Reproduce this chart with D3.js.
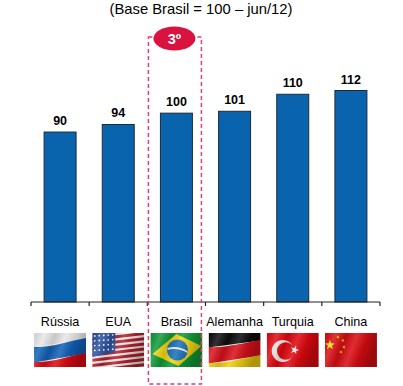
<!DOCTYPE html>
<html>
<head>
<meta charset="utf-8">
<script src="https://cdn.jsdelivr.net/npm/d3@7"></script>
<style>
body { margin: 0; background: #fff; }
svg { display: block; font-family: "Liberation Sans", Arial, sans-serif; }
</style>
</head>
<body>
<div id="root"></div>
<script>
var paises = ["Rússia", "EUA", "Brasil", "Alemanha", "Turquia", "China"];
var valores = [90, 94, 100, 101, 110, 112];
var titulo = "(Base Brasil = 100 – jun/12)";
var destaque = "Brasil";
var posicao = "3º";

var width = 403, height = 386;
var baseY = 302, topY = 90.5;

var svg = d3.select("#root").append("svg")
    .attr("width", width)
    .attr("height", height);

var x = d3.scaleBand()
    .domain(paises)
    .range([31, 380])
    .paddingInner(0.45)
    .paddingOuter(0.225);

var y = d3.scaleLinear()
    .domain([0, d3.max(valores)])
    .range([baseY, topY]);

var defs = svg.append("defs");

// brilho ondulado por cima das bandeiras
var brilho = defs.append("linearGradient").attr("id", "brilho")
    .attr("x1", 0).attr("x2", 1).attr("y1", 0).attr("y2", 0.25);
[[0, "#000", 0.1], [0.2, "#fff", 0.16], [0.4, "#000", 0.14], [0.6, "#fff", 0.14], [0.8, "#000", 0.12], [1, "#000", 0.28]]
    .forEach(function (s) {
        brilho.append("stop").attr("offset", s[0]).attr("stop-color", s[1]).attr("stop-opacity", s[2]);
    });

defs.append("clipPath").attr("id", "recorte")
    .append("rect").attr("width", 52).attr("height", 34);

svg.append("text")
    .attr("x", 201)
    .attr("y", 13.5)
    .attr("text-anchor", "middle")
    .style("font-size", "14.8px")
    .style("fill", "#000")
    .text(titulo);

// barras
svg.selectAll(".bar")
    .data(valores)
    .enter()
    .append("rect")
    .attr("class", "bar")
    .attr("x", function (d, i) { return x(paises[i]); })
    .attr("y", function (d) { return y(d); })
    .attr("width", x.bandwidth())
    .attr("height", function (d) { return baseY - y(d); })
    .style("fill", "#0a64ad")
    .style("stroke", "#1c2a3a")
    .style("stroke-width", 1);

svg.selectAll(".valor")
    .data(valores)
    .enter()
    .append("text")
    .attr("class", "valor")
    .attr("x", function (d, i) { return x(paises[i]) + x.bandwidth() / 2; })
    .attr("y", function (d) { return y(d) - 7; })
    .attr("text-anchor", "middle")
    .style("font-size", "12.5px")
    .style("font-weight", "bold")
    .style("fill", "#000")
    .text(function (d) { return d; });

// eixo: ticks entre as categorias
var passo = x.step();
var limites = d3.range(paises.length + 1).map(function (i) { return 31 + i * passo; });
var eixo = svg.append("g").style("stroke", "#222").style("stroke-width", 1.2);
eixo.append("line").attr("x1", 31).attr("x2", 380).attr("y1", baseY).attr("y2", baseY);
eixo.selectAll(".tick")
    .data(limites)
    .enter()
    .append("line")
    .attr("class", "tick")
    .attr("x1", function (d) { return d; })
    .attr("x2", function (d) { return d; })
    .attr("y1", baseY)
    .attr("y2", baseY + 4);

svg.selectAll(".pais")
    .data(paises)
    .enter()
    .append("text")
    .attr("class", "pais")
    .attr("x", function (d) { return x(d) + x.bandwidth() / 2; })
    .attr("y", 326)
    .attr("text-anchor", "middle")
    .style("font-size", "12.6px")
    .style("fill", "#000")
    .text(function (d) { return d; });

// faixas inclinadas: cortes = altura de cada divisa na esquerda e na direita
function faixas(g, cores, esq, dir) {
    var e = [-8].concat(esq, [40]), r = [-8].concat(dir, [40]);
    cores.forEach(function (c, i) {
        g.append("path")
            .attr("d", "M0," + e[i] + "C17," + (e[i] + 1) + " 35," + (r[i] + 3) + " 52," + r[i] +
                "L52," + (r[i + 1] + 0.5) + "L0," + (e[i + 1] + 0.5) + "Z")
            .style("fill", c);
    });
}

function estrela(g, cx, cy, r, cor, rot) {
    var pts = d3.range(10).map(function (i) {
        var a = i * Math.PI / 5 - Math.PI / 2 + (rot || 0);
        var q = i % 2 ? r * 0.4 : r;
        return [cx + q * Math.cos(a), cy + q * Math.sin(a)];
    });
    g.append("polygon").attr("points", pts.join(" ")).style("fill", cor);
}

var desenho = {
    "Rússia": function (g) {
        faixas(g, ["#e8e8e8", "#1160b8", "#dd0a12"], [14, 29], [5, 20]);
    },
    "EUA": function (g) {
        g.append("rect").attr("width", 52).attr("height", 34).style("fill", "#f2eeee");
        d3.range(7).forEach(function (i) {
            g.append("path")
                .attr("d", "M0," + (i * 5.2 + 5) + "L52," + (i * 5.2 - 1) + "L52," + (i * 5.2 + 2) + "L0," + (i * 5.2 + 8) + "Z")
                .style("fill", "#b5202c");
        });
        g.append("path").attr("d", "M0,0L23,0L23,19L0,24Z").style("fill", "#2b4f9e");
        d3.range(4).forEach(function (l) {
            d3.range(5).forEach(function (c) {
                g.append("circle").attr("cx", 2.5 + c * 4.5).attr("cy", 3 + l * 4.8 - c * 0.3)
                    .attr("r", 0.9).style("fill", "#fff");
            });
        });
    },
    "Brasil": function (g) {
        g.append("rect").attr("width", 52).attr("height", 34).style("fill", "#109a38");
        g.append("polygon").attr("points", "26,1 51,13 28,33 2,21").style("fill", "#f3d612");
        g.append("circle").attr("cx", 27).attr("cy", 17).attr("r", 10.5).style("fill", "#1a72b8");
        g.append("path").attr("d", "M17,15C23,13 31,14 37,18L37,20C31,16 23,15 17,17Z").style("fill", "#e8eef0");
    },
    "Alemanha": function (g) {
        faixas(g, ["#0c0c0c", "#d8101a", "#f0d010"], [14, 30], [7, 22]);
    },
    "Turquia": function (g) {
        g.append("rect").attr("width", 52).attr("height", 34).style("fill", "#e0080f");
        g.append("circle").attr("cx", 16).attr("cy", 18).attr("r", 11).style("fill", "#f4e8ea");
        g.append("circle").attr("cx", 19).attr("cy", 18).attr("r", 8.8).style("fill", "#e0080f");
        estrela(g, 28, 17, 4.6, "#f4e8ea", 0.3);
    },
    "China": function (g) {
        g.append("rect").attr("width", 52).attr("height", 34).style("fill", "#d90c12");
        estrela(g, 5, 12, 5.2, "#f6e010");
        [[13, 4], [18, 7.5], [19, 14], [16, 19]].forEach(function (p) {
            estrela(g, p[0], p[1], 1.8, "#f6e010", 0.4);
        });
    }
};

var flagW = 52, flagX = function (d) { return x(d) + x.bandwidth() / 2 - flagW / 2; };
var flags = svg.selectAll(".bandeira")
    .data(paises)
    .enter()
    .append("g")
    .attr("class", "bandeira")
    .attr("transform", function (d) { return "translate(" + flagX(d) + ",333)"; })
    .attr("clip-path", "url(#recorte)");

flags.each(function (d) {
    var g = d3.select(this);
    desenho[d](g);
    g.append("rect").attr("width", 52).attr("height", 34).style("fill", "url(#brilho)");
});

// destaque tracejado + selo
var meio = x(destaque) + x.bandwidth() / 2;
svg.append("rect")
    .attr("x", meio - 28)
    .attr("y", 37)
    .attr("width", 53)
    .attr("height", 347)
    .style("fill", "none")
    .style("stroke", "#e63e6d")
    .style("stroke-width", 1.5)
    .style("stroke-dasharray", "4,3");

svg.append("ellipse")
    .attr("cx", meio - 2)
    .attr("cy", 38.5)
    .attr("rx", 21)
    .attr("ry", 12)
    .style("fill", "#d9123f");

svg.append("text")
    .attr("x", meio - 2)
    .attr("y", 44)
    .attr("text-anchor", "middle")
    .style("font-size", "14.5px")
    .style("font-weight", "bold")
    .style("fill", "#fff")
    .text(posicao);
</script>
</body>
</html>
